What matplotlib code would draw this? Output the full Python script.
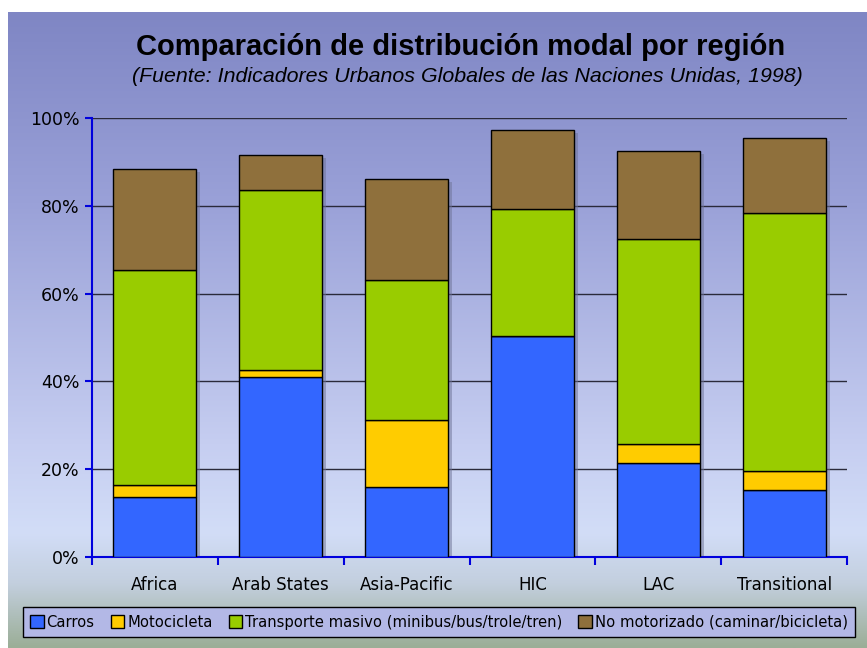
import numpy as np
import matplotlib
matplotlib.use("Agg")
import matplotlib.pyplot as plt
import matplotlib.transforms as mtransforms
from matplotlib.colors import LinearSegmentedColormap

regiones = ["Africa", "Arab States", "Asia-Pacific", "HIC", "LAC", "Transitional"]
carros = [13.7, 41.0, 15.9, 50.3, 21.4, 15.3]
motocicleta = [2.7, 1.6, 15.3, 0.0, 4.3, 4.3]
transporte = [49.0, 41.0, 31.9, 29.0, 46.7, 58.8]
no_motorizado = [23.0, 8.0, 23.0, 18.0, 20.1, 17.0]

series = ["Carros", "Motocicleta",
          "Transporte masivo (minibus/bus/trole/tren)",
          "No motorizado (caminar/bicicleta)"]
colores = ["#3366FF", "#FFCC00", "#99CC00", "#8F703C"]

fig = plt.figure(figsize=(8.67, 6.48), dpi=100)
fig.patch.set_facecolor("white")

# fondo con degradado
bg = fig.add_axes([8 / 867, 0, 1 - 8 / 867, (648 - 12) / 648])
cmap = LinearSegmentedColormap.from_list("fondo", [
    (0.0, "#7F86C4"), (0.3, "#9AA1D8"), (0.68, "#C6CEF1"),
    (0.82, "#D2DDF7"), (0.9, "#C3CFDE"), (1.0, "#9BAE97")])
grad = np.linspace(0, 1, 256).reshape(-1, 1)
bg.imshow(grad, aspect="auto", cmap=cmap, extent=[0, 1, 0, 1], origin="upper")
bg.set_axis_off()
bg.set_zorder(-10)

ax = fig.add_axes([92 / 867, (648 - 557) / 648, (847 - 92) / 867, (557 - 118) / 648])
ax.set_facecolor("none")

x = np.arange(len(regiones))
datos = [carros, motocicleta, transporte, no_motorizado]
total = np.sum(datos, axis=0)
ancho = 0.66

# sombra de las barras
sombra = mtransforms.offset_copy(ax.transData, fig=fig, x=4, y=-3, units="dots")
ax.bar(x, total, width=ancho, color="#6E7396", alpha=0.5, transform=sombra,
       zorder=2, linewidth=0)

abajo = np.zeros(len(regiones))
for vals, nombre, c in zip(datos, series, colores):
    ax.bar(x, vals, bottom=abajo, width=ancho, color=c, edgecolor="black",
           linewidth=1, label=nombre, zorder=3)
    abajo += np.array(vals)

ax.set_xlim(-0.5, len(regiones) - 0.5)
ax.set_ylim(0, 100)
ax.set_yticks([0, 20, 40, 60, 80, 100])
ax.set_yticklabels(["0%", "20%", "40%", "60%", "80%", "100%"])
ax.yaxis.grid(True, color="#2A2A3A", linewidth=1)
ax.set_axisbelow(True)

ax.set_xticks(x)
ax.set_xticklabels(regiones)
ax.set_xticks(np.arange(-0.5, len(regiones)), minor=True)
ax.tick_params(axis="x", which="major", length=0, pad=14, labelsize=12)
ax.tick_params(axis="x", which="minor", length=6, color="#0000DD", width=1.5)
ax.tick_params(axis="y", length=5, color="#0000DD", width=1.5, labelsize=12.5, pad=4)

for s in ["top", "right"]:
    ax.spines[s].set_visible(False)
for s in ["left", "bottom"]:
    ax.spines[s].set_color("#0000DD")
    ax.spines[s].set_linewidth(1.5)

fig.text(0.531, 0.927, "Comparación de distribución modal por región",
         ha="center", va="center", fontsize=21, fontweight="bold",
         family="Liberation Sans")
fig.text(0.539, 0.882, "(Fuente: Indicadores Urbanos Globales de las Naciones Unidas, 1998)",
         ha="center", va="center", fontsize=15.4, style="italic",
         family="Liberation Sans")

leg = fig.legend(loc="lower left",
                 bbox_to_anchor=(23 / 867, (648 - 637) / 648, 832 / 867, 35 / 648),
                 mode="expand", ncol=4, fontsize=10.6, frameon=True,
                 fancybox=False, handlelength=0.9, handleheight=0.9,
                 handletextpad=0.2, columnspacing=0.8, borderpad=0.5,
                 borderaxespad=0)
leg.get_frame().set_facecolor("#B3B8E6")
leg.get_frame().set_edgecolor("black")
leg.get_frame().set_alpha(1)

fig.savefig("out.png", dpi=100)
